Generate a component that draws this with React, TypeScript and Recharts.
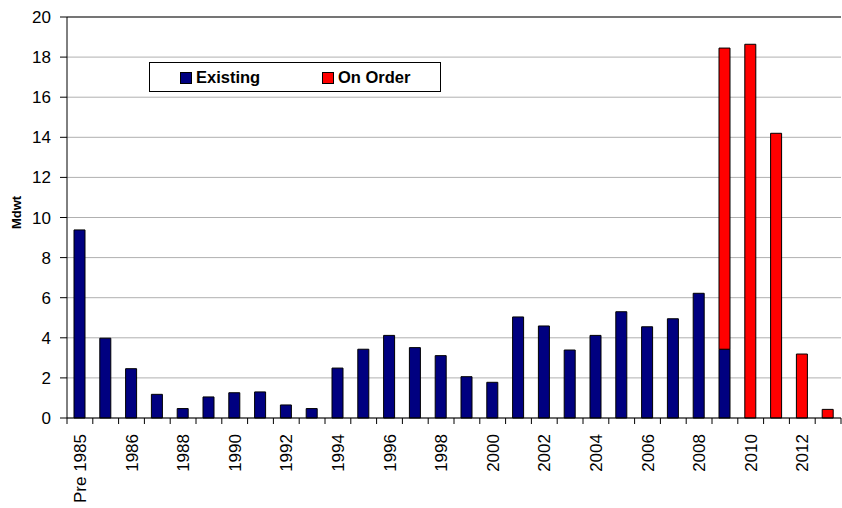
import React from 'react';
import { BarChart, Bar, XAxis, YAxis, CartesianGrid, Legend, Label, ReferenceLine } from 'recharts';

const categories = [
  'Pre 1985', '1985', '1986', '1987', '1988', '1989', '1990', '1991', '1992', '1993',
  '1994', '1995', '1996', '1997', '1998', '1999', '2000', '2001', '2002', '2003',
  '2004', '2005', '2006', '2007', '2008', '2009', '2010', '2011', '2012', '2013',
];

const existing = [
  9.38, 3.98, 2.46, 1.18, 0.47, 1.05, 1.26, 1.3, 0.65, 0.47,
  2.49, 3.43, 4.12, 3.51, 3.11, 2.06, 1.78, 5.04, 4.59, 3.39,
  4.12, 5.3, 4.55, 4.95, 6.22, 3.43, 0, 0, 0, 0,
];

const onOrder = [
  0, 0, 0, 0, 0, 0, 0, 0, 0, 0,
  0, 0, 0, 0, 0, 0, 0, 0, 0, 0,
  0, 0, 0, 0, 0, 15.02, 18.64, 14.2, 3.19, 0.43,
];

const yTicks = [0, 2, 4, 6, 8, 10, 12, 14, 16, 18, 20];

const data = categories.map((c, i) => ({ name: c, existing: existing[i], onOrder: onOrder[i] }));

const FONT = '"Liberation Sans", Arial, Helvetica, sans-serif';

const XTick = (props: any) => {
  const { x, y, payload, index } = props;
  const half = payload && typeof payload.offset === 'number' && payload.offset > 0 ? payload.offset : 12.9;
  const isLast = index === categories.length - 1;
  const labelY = y + 16;
  return (
    <g>
      <line x1={x - half} y1={y} x2={x - half} y2={y + 6} stroke="#000" strokeWidth={1} />
      {isLast && <line x1={x + half} y1={y} x2={x + half} y2={y + 6} stroke="#000" strokeWidth={1} />}
      {index % 2 === 0 && (
        <text
          x={x}
          y={labelY}
          transform={`rotate(-90, ${x}, ${labelY})`}
          textAnchor="end"
          dy="0.36em"
          fontSize={17}
          fill="#000"
          fontFamily={FONT}
        >
          {payload.value}
        </text>
      )}
    </g>
  );
};

const YLabel = (props: any) => {
  const vb = props.viewBox || { x: 0, y: 17, width: 67, height: 401 };
  const cx = vb.x + 16;
  const cy = vb.y + vb.height / 2 - 5;
  return (
    <text
      x={cx}
      y={cy}
      transform={`rotate(-90, ${cx}, ${cy})`}
      textAnchor="middle"
      dy="0.36em"
      fontSize={13}
      fontWeight="bold"
      fill="#000"
      fontFamily={FONT}
    >
      Mdwt
    </text>
  );
};

const LegendBox = () => (
  <div
    style={{
      width: 290,
      height: 28,
      border: '1px solid #000',
      background: '#fff',
      fontFamily: FONT,
      fontWeight: 'bold',
      fontSize: 16.5,
      position: 'relative',
      boxSizing: 'content-box',
    }}
  >
    <div style={{ position: 'absolute', left: 30, top: 9, width: 10, height: 10, background: '#000080', border: '1px solid #000' }} />
    <div style={{ position: 'absolute', left: 46, top: 4, lineHeight: '20px', color: '#000' }}>Existing</div>
    <div style={{ position: 'absolute', left: 172, top: 9, width: 10, height: 10, background: '#FF0000', border: '1px solid #000' }} />
    <div style={{ position: 'absolute', left: 188, top: 4, lineHeight: '20px', color: '#000' }}>On Order</div>
  </div>
);

export default function App() {
  return (
    <div style={{ position: 'absolute', left: 0, top: 0, width: 842, height: 508, background: '#fff', fontFamily: FONT }}>
      <BarChart
        width={842}
        height={508}
        data={data}
        margin={{ top: 17, right: 1, bottom: 0, left: 0 }}
        barSize={11}
      >
        <CartesianGrid vertical={false} stroke="#b0b0b0" strokeWidth={1} />
        <ReferenceLine y={20} stroke="#555" strokeWidth={1.5} />
        <XAxis
          dataKey="name"
          interval={0}
          height={90}
          tickLine={false}
          tickSize={0}
          tickMargin={0}
          axisLine={{ stroke: '#000', strokeWidth: 1 }}
          tick={<XTick />}
        />
        <YAxis
          width={67}
          domain={[0, 20]}
          ticks={yTicks}
          interval={0}
          tickSize={7}
          tickMargin={9}
          axisLine={{ stroke: '#000', strokeWidth: 1 }}
          tickLine={{ stroke: '#000' }}
          tick={{ fontSize: 17, fill: '#000', fontFamily: FONT }}
        >
          <Label content={<YLabel />} position="insideLeft" />
        </YAxis>
        <Legend
          layout="vertical"
          align="center"
          verticalAlign="middle"
          content={<LegendBox />}
          wrapperStyle={{ position: 'absolute', left: 149, top: 62, width: 292, height: 30, bottom: 'auto', right: 'auto' }}
        />
        <Bar dataKey="existing" stackId="a" fill="#000080" stroke="#000" strokeWidth={1} isAnimationActive={false} />
        <Bar dataKey="onOrder" stackId="a" fill="#FF0000" stroke="#000" strokeWidth={1} isAnimationActive={false} />
      </BarChart>
    </div>
  );
}
